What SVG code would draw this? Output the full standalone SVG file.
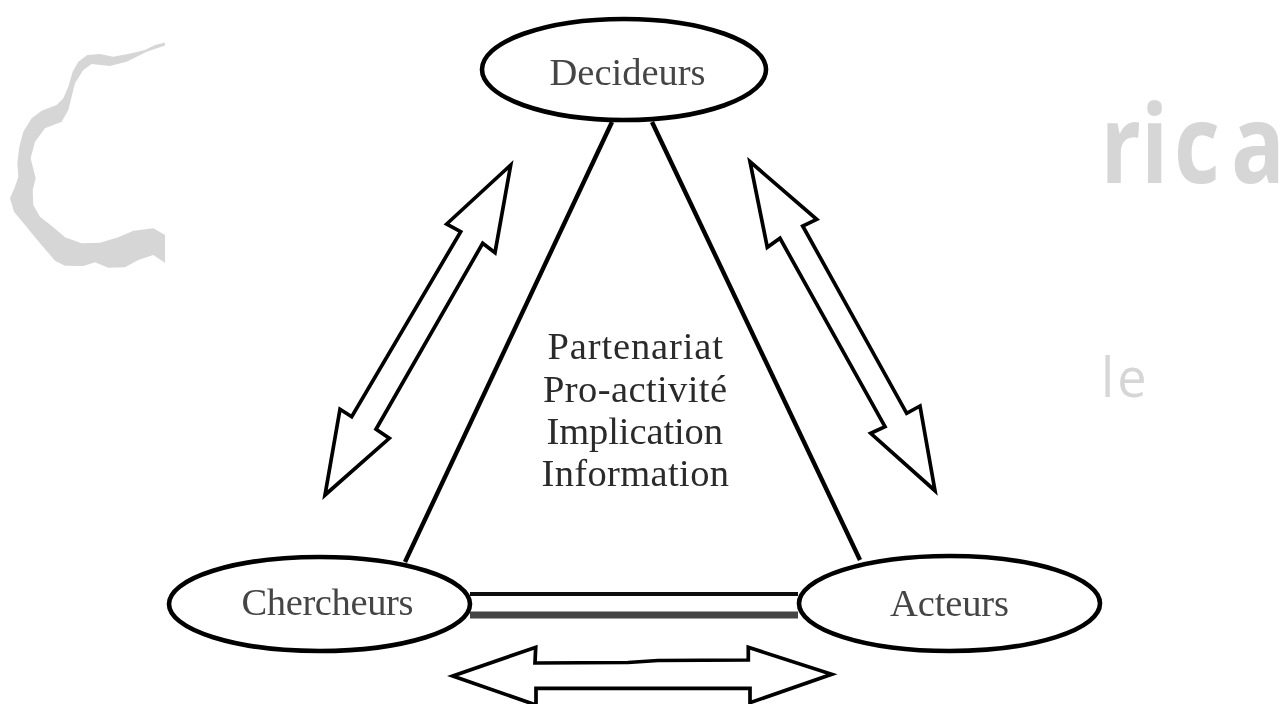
<svg xmlns="http://www.w3.org/2000/svg" width="1285" height="704" viewBox="0 0 1285 704">
<defs>
<filter id="soft" x="-5%" y="-5%" width="110%" height="110%"><feGaussianBlur stdDeviation="0.5"/></filter>
<clipPath id="cut"><rect x="0" y="0" width="165" height="704"/></clipPath>
</defs>
<style>
.s{filter:url(#soft)}
.n{fill:#fff;stroke:#000;stroke-width:4.6}
.t{font-family:"Liberation Serif","Times New Roman",serif;font-size:38.5px;fill:#2a2a2a}
.g{fill:#444}
.a{fill:#fff;stroke:#000;stroke-width:3.7;stroke-linejoin:miter}
.l{stroke:#000;stroke-width:4.4;fill:none}
.w{font-family:"Open Sans","Noto Sans",sans-serif;fill:#d6d6d6}
</style>
<rect width="1285" height="704" fill="#fff"/>
<g clip-path="url(#cut)">
<path id="swirl" class="s" fill="#d6d6d6" transform="translate(0,20) scale(0.3333)" d="M500 66L465 75L435 90L395 100L340 110L300 102L262 105L235 125L218 155L205 200L190 235L170 255L125 272L95 295L70 335L58 380L52 430L55 470L45 500L30 535L42 575L75 615L120 670L165 722L195 737L250 738L285 727L325 743L375 742L415 720L460 705L500 732L500 648L460 625L400 632L355 652L300 668L245 670L195 652L160 622L120 590L100 555L98 510L107 475L92 415L105 365L135 325L185 305L205 270L225 190L250 150L275 132L330 138L380 125L440 95L500 75Z"/>
</g>
<text class="w s" transform="translate(1099,183) scale(0.81,1)" font-size="110" font-weight="700" x="2 52 92.5 163">rica</text>
<text class="w s" transform="translate(1101,397) scale(0.95,1)" font-size="55" font-weight="400" x="0 17">le</text>
<g id="connectors" class="s">
<line class="l" x1="612" y1="122" x2="405" y2="562"/>
<line class="l" x1="652" y1="122" x2="860" y2="560"/>
<line x1="470" y1="594" x2="798" y2="594" stroke="#111" stroke-width="3.8"/>
<line x1="470" y1="615" x2="798" y2="615" stroke="#444" stroke-width="7"/>
<path class="a" d="M510.7 165L446.7 224L460.7 231.7L351.7 416.7L340 409.3L325 495L389.3 438.3L376 429.3L482.7 243.3L495 252.7Z"/>
<path class="a" d="M750 161.7L816.7 219.3L802.7 226L906.7 413.3L920 406L935 490.7L870.7 433.3L885 426.7L780 238.3L767.3 247.3Z"/>
<path class="a" d="M452.7 676L535.7 647.3L535 663L628 662.5L658 660.5L748.3 660L748.3 647.3L831.7 674.3L750 702.7L750 688.3L536 688.3L536 705L452.7 676Z"/>
</g>
<g id="decideurs" class="s"><ellipse class="n" cx="624" cy="69.5" rx="142" ry="50.5"/><text class="t g" x="549.5" y="85" textLength="156">Decideurs</text></g>
<g id="chercheurs" class="s"><ellipse class="n" cx="319.5" cy="604" rx="150.5" ry="47"/><text class="t g" x="241.5" y="615" textLength="172">Chercheurs</text></g>
<g id="acteurs" class="s"><ellipse class="n" cx="949.5" cy="603.5" rx="150.5" ry="47.5"/><text class="t g" x="890" y="616" textLength="119">Acteurs</text></g>
<g id="centre" class="s">
<text class="t" x="547.5" y="359" textLength="175.5">Partenariat</text>
<text class="t" x="543" y="402" textLength="184">Pro-activité</text>
<text class="t" x="546.5" y="444" textLength="176.5">Implication</text>
<text class="t" x="541.5" y="486" textLength="187.5">Information</text>
</g>
</svg>
